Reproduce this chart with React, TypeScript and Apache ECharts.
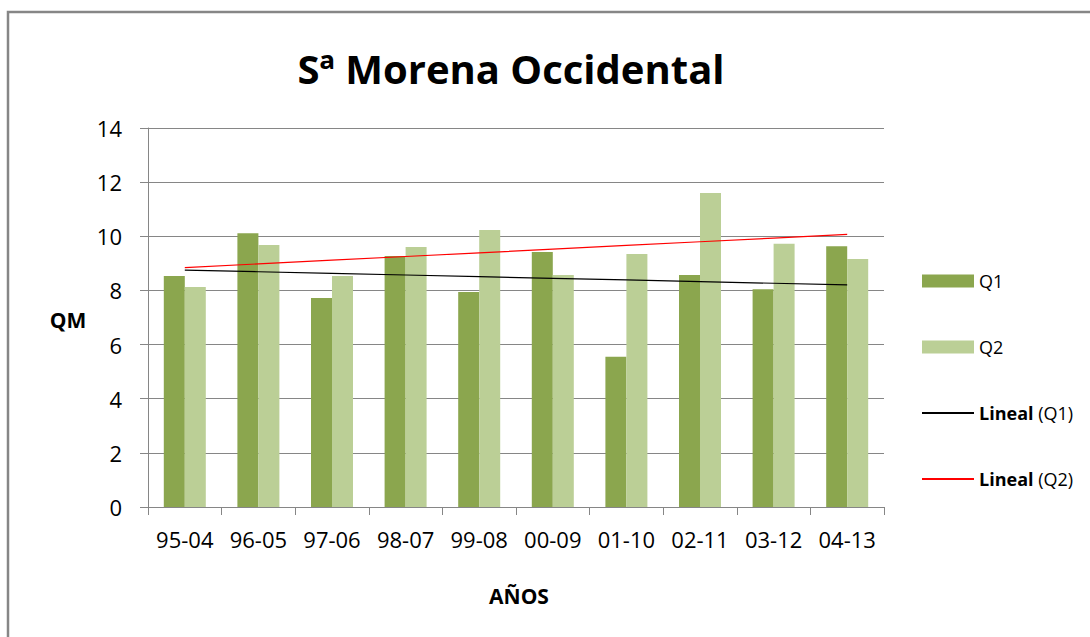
import React, { useEffect, useRef } from "react";
import * as echarts from "echarts";

const categories = ["95-04", "96-05", "97-06", "98-07", "99-08", "00-09", "01-10", "02-11", "03-12", "04-13"];
const q1 = [8.53, 10.11, 7.72, 9.27, 7.94, 9.42, 5.55, 8.57, 8.04, 9.63];
const q2 = [8.13, 9.68, 8.53, 9.6, 10.23, 8.57, 9.35, 11.6, 9.72, 9.16];
const yTicks = { min: 0, max: 14, interval: 2 };
const titleText = "Sª Morena Occidental";

// Least-squares linear trendline (as Excel's "Lineal" trendline)
function linearTrend(ys: number[]): number[] {
  const n = ys.length;
  const xs = ys.map((_, i) => i + 1);
  const mx = xs.reduce((a, b) => a + b, 0) / n;
  const my = ys.reduce((a, b) => a + b, 0) / n;
  let sxy = 0;
  let sxx = 0;
  for (let i = 0; i < n; i++) {
    sxy += (xs[i] - mx) * (ys[i] - my);
    sxx += (xs[i] - mx) * (xs[i] - mx);
  }
  const slope = sxy / sxx;
  return xs.map((x) => +(my + slope * (x - mx)).toFixed(4));
}

const FONT = "'Open Sans', 'Noto Sans', sans-serif";
const GRID_COLOR = "#868686";

export default function App() {
  const ref = useRef<HTMLDivElement>(null);
  useEffect(() => {
    if (!ref.current) return;
    const chart = echarts.init(ref.current, null, { renderer: "svg" });
    const option: any = {
      animation: false,
      backgroundColor: "#ffffff",
      textStyle: { fontFamily: FONT },
      grid: { left: 148, right: 206, top: 128, bottom: 130, containLabel: false },
      graphic: [
        {
          type: "rect",
          shape: { x: 8, y: 12, width: 1200, height: 700 },
          style: { fill: "none", stroke: GRID_COLOR, lineWidth: 2.5 },
          silent: true,
        },
        {
          type: "text",
          x: 511,
          y: 68,
          style: {
            text: titleText,
            font: `bold 40px ${FONT}`,
            fill: "#000",
            textAlign: "center",
            textVerticalAlign: "middle",
          },
        },
        {
          type: "text",
          x: 68,
          y: 320,
          style: {
            text: "QM",
            font: `bold 21px ${FONT}`,
            fill: "#000",
            textAlign: "center",
            textVerticalAlign: "middle",
          },
        },
        {
          type: "text",
          x: 519,
          y: 596,
          style: {
            text: "AÑOS",
            font: `bold 21px ${FONT}`,
            fill: "#000",
            textAlign: "center",
            textVerticalAlign: "middle",
          },
        },
      ],
      legend: {
        orient: "vertical",
        left: 921,
        top: 272,
        padding: 0,
        itemWidth: 52,
        itemHeight: 13,
        itemGap: 48,
        textStyle: {
          fontFamily: FONT,
          fontSize: 18,
          color: "#000",
          lineHeight: 18,
          rich: {
            b: { fontFamily: FONT, fontSize: 18, fontWeight: "bold", color: "#000", lineHeight: 18 },
          },
        },
        formatter: (name: string) =>
          name.startsWith("Lineal") ? `{b|Lineal} ${name.slice(7)}` : name,
        data: [
          { name: "Q1", icon: "rect" },
          { name: "Q2", icon: "rect" },
          { name: "Lineal (Q1)", itemStyle: { opacity: 0 } },
          { name: "Lineal (Q2)", itemStyle: { opacity: 0 } },
        ],
      },
      xAxis: {
        type: "category",
        data: categories,
        boundaryGap: true,
        axisLine: { show: true, lineStyle: { color: GRID_COLOR, width: 1 } },
        axisTick: { show: true, length: 8, alignWithLabel: false, lineStyle: { color: GRID_COLOR } },
        axisLabel: { color: "#000", fontSize: 22, fontFamily: FONT, margin: 21, interval: 0 },
        splitLine: { show: false },
      },
      yAxis: {
        type: "value",
        min: yTicks.min,
        max: yTicks.max,
        interval: yTicks.interval,
        axisLine: { show: true, lineStyle: { color: GRID_COLOR, width: 1 } },
        axisTick: { show: true, length: 8, inside: false, lineStyle: { color: GRID_COLOR } },
        axisLabel: { color: "#000", fontSize: 22, fontFamily: FONT, margin: 26 },
        splitLine: { show: true, lineStyle: { color: GRID_COLOR, width: 1 } },
      },
      series: [
        {
          name: "Q1",
          type: "bar",
          data: q1,
          barWidth: 21,
          barGap: "0%",
          itemStyle: { color: "#8BA64E" },
        },
        {
          name: "Q2",
          type: "bar",
          data: q2,
          barWidth: 21,
          barGap: "0%",
          itemStyle: { color: "#BBCF96" },
        },
        {
          name: "Lineal (Q1)",
          type: "line",
          data: linearTrend(q1),
          symbol: "none",
          z: 5,
          lineStyle: { color: "#000000", width: 1.2 },
          itemStyle: { color: "#000000" },
        },
        {
          name: "Lineal (Q2)",
          type: "line",
          data: linearTrend(q2),
          symbol: "none",
          z: 5,
          lineStyle: { color: "#FF0000", width: 1.2 },
          itemStyle: { color: "#FF0000" },
        },
      ],
    };
    chart.setOption(option);
    return () => chart.dispose();
  }, []);
  return (
    <div
      ref={ref}
      style={{ position: "absolute", left: 0, top: 0, width: 1090, height: 637 }}
    />
  );
}
